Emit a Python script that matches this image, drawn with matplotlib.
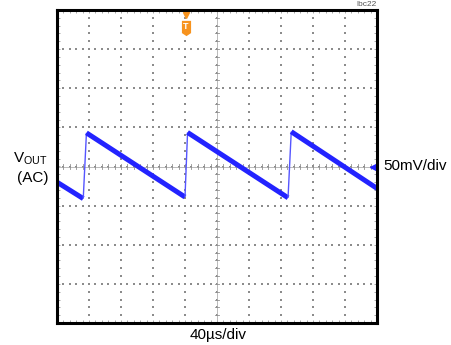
import numpy as np
import matplotlib.pyplot as plt
from matplotlib.path import Path

plt.rcParams['font.family'] = ['Liberation Sans', 'DejaVu Sans']
plt.rcParams['mathtext.fontset'] = 'custom'
plt.rcParams['mathtext.rm'] = 'Liberation Sans'

# scope trace, in divisions (x: 0..10, y: -4..4)
trace_x = [0.0, 0.82, 0.92, 4.00, 4.08, 7.22, 7.32, 10.0]
trace_y = [-0.40, -0.82, 0.86, -0.78, 0.87, -0.80, 0.89, -0.56]
trig_x = 4.03
x_label = "40µs/div"
y_scale = "50mV/div"
fig_id = "lbc22"

fig = plt.figure(figsize=(4.51, 3.45), dpi=100)
ax = fig.add_axes([57 / 451, 22 / 345, 320 / 451, 313 / 345])
ax.set_xlim(0, 10)
ax.set_ylim(-4, 4)

# dotted graticule
gx, gy = np.meshgrid(np.arange(1, 10), np.arange(-4, 4.01, 0.2))
ax.scatter(gx.ravel(), gy.ravel(), s=0.9, c='#8c8c8c', marker='s', lw=0)
gx, gy = np.meshgrid(np.arange(0, 10.01, 0.2), np.arange(-3, 4))
ax.scatter(gx.ravel(), gy.ravel(), s=0.9, c='#8c8c8c', marker='s', lw=0)

# center axes with minor ticks
ax.axhline(0, color='#b0b0b0', lw=0.6)
ax.axvline(5, color='#b0b0b0', lw=0.6)
for t in np.arange(0, 10.01, 0.2):
    ax.plot([t, t], [-0.07, 0.07], color='#909090', lw=0.6)
for t in np.arange(-4, 4.01, 0.2):
    ax.plot([4.95, 5.05], [t, t], color='#909090', lw=0.6)

ax.set_xticks(np.arange(0, 10.01, 0.2))
ax.set_yticks(np.arange(-4, 4.01, 0.2))
ax.tick_params(direction='in', length=2.5, width=0.6, colors='#999999',
               top=True, right=True, labelleft=False, labelbottom=False)
for s in ax.spines.values():
    s.set_linewidth(2.2)
    s.set_color('black')

# falling ramps thick, fast edges thin
for i in range(len(trace_x) - 1):
    rising = trace_y[i + 1] > trace_y[i]
    ax.plot(trace_x[i:i + 2], trace_y[i:i + 2], color='#5555ff' if rising else '#2323ff',
            lw=1.0 if rising else 3.6, solid_capstyle='butt')

# markers
ax.plot([trig_x], [3.88], marker='v', color='#f7931e', ms=4, clip_on=False)
badge = Path([(-0.6, 1), (0.6, 1), (0.6, -0.6), (0, -1), (-0.6, -0.6), (-0.6, 1)])
ax.plot([trig_x], [3.55], marker=badge, color='#f7931e', ms=11, mew=0)
ax.text(trig_x, 3.58, "T", color='white', fontsize=6.5, fontweight='bold',
        ha='center', va='center')
ax.plot([9.86], [0], marker='<', color='#2323ff', ms=5)

fig.text(48 / 451, 1 - 159 / 345, r"V$_{\mathrm{OUT}}$", fontsize=11, ha='right', va='center')
fig.text(48 / 451, 1 - 178 / 345, "(AC)", fontsize=11, ha='right', va='center')
fig.text(383 / 451, 1 - 166 / 345, y_scale, fontsize=11, ha='left', va='center')
fig.text(218 / 451, 1 - 335 / 345, x_label, fontsize=11, ha='center', va='center')
fig.text(377 / 451, 1 - 4 / 345, fig_id, fontsize=6, color='#555555', ha='right', va='center')

fig.savefig('out.png', dpi=100)
